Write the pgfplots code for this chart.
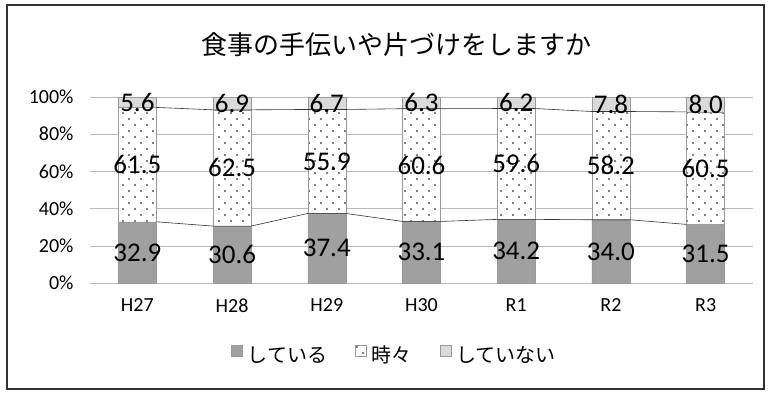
\documentclass[border=0pt]{standalone}
\usepackage{pgfplots}
\pgfplotsset{compat=1.18}
\usepackage{fontspec}
\setmainfont{Carlito}
\newfontfamily\jp{Noto Sans CJK JP}
\usetikzlibrary{patterns}
\pgfdeclarepatternformonly{sparsedots}{\pgfqpoint{-1pt}{-1pt}}{\pgfqpoint{13pt}{13pt}}{\pgfqpoint{12pt}{12pt}}{%
  \pgfpathcircle{\pgfqpoint{3pt}{3pt}}{0.8pt}%
  \pgfpathcircle{\pgfqpoint{9pt}{9pt}}{0.8pt}%
  \pgfusepath{fill}}
\pgfdeclarepatternformonly{finedots}{\pgfqpoint{-1pt}{-1pt}}{\pgfqpoint{4pt}{4pt}}{\pgfqpoint{3pt}{3pt}}{%
  \pgfpathcircle{\pgfqpoint{1pt}{1pt}}{0.45pt}%
  \pgfusepath{fill}}
\definecolor{darkbar}{HTML}{A0A0A0}
\definecolor{lightbar}{HTML}{DCDCDC}
\begin{document}
\begin{tikzpicture}
\useasboundingbox (0pt,0pt) rectangle (770pt,392pt);
\draw[line width=1.4pt, black!80] (7pt,3pt) rectangle (764pt,387pt);
\node[font=\jp\fontsize{26}{29}\selectfont] at (396pt,347pt) {食事の手伝いや片づけをしますか};
\begin{axis}[
  at={(90pt,109pt)}, anchor=south west, scale only axis,
  width=663pt, height=186pt,
  ybar stacked, bar width=38pt,
  xmin=-0.5, xmax=6.5, ymin=0, ymax=100,
  xtick={0,1,2,3,4,5,6},
  xticklabels={H27,H28,H29,H30,R1,R2,R3},
  ytick={0,20,40,60,80,100},
  yticklabel={\pgfmathprintnumber{\tick}\%},
  /pgf/number format/assume math mode=true,
  ymajorgrids, major grid style={gray!55, line width=0.6pt},
  axis line style={draw=none}, major tick length=0pt,
  tick label style={font=\fontsize{20}{24}\selectfont},
  xticklabel style={yshift=-12pt},
  yticklabel style={xshift=-13pt},
  legend style={at={(0.459,-0.387)}, anchor=center, draw=none, fill=none,
    legend columns=3, font=\jp\fontsize{20}{24}\selectfont,
    /tikz/every odd column/.append style={column sep=3pt},
    /tikz/every even column/.append style={column sep=26pt}},
  legend image code/.code={\draw[#1] (0pt,-1pt) rectangle (11pt,10pt);},
]
\addplot[fill=darkbar, draw=gray!80, line width=0.5pt, postaction={pattern=finedots, pattern color=gray!70}]
  coordinates {(0,32.9) (1,30.6) (2,37.4) (3,33.1) (4,34.2) (5,34.0) (6,31.5)};
\addplot[fill=white, draw=gray!80, line width=0.5pt, postaction={pattern=sparsedots, pattern color=black}]
  coordinates {(0,61.5) (1,62.5) (2,55.9) (3,60.6) (4,59.6) (5,58.2) (6,60.5)};
\addplot[fill=lightbar, draw=gray!80, line width=0.5pt, postaction={pattern=finedots, pattern color=gray!60}]
  coordinates {(0,5.6) (1,6.9) (2,6.7) (3,6.3) (4,6.2) (5,7.8) (6,8.0)};
\legend{している,時々,していない}
\end{axis}
\begin{axis}[
  at={(90pt,109pt)}, anchor=south west, scale only axis,
  width=663pt, height=186pt,
  xmin=-0.5, xmax=6.5, ymin=0, ymax=100, hide axis,
  clip=false,
]
\addplot[gray!40!black, line width=0.6pt, mark=none] coordinates {
 (0.2,32.9)(0.8,30.6)(1.2,30.6)(1.8,37.4)(2.2,37.4)(2.8,33.1)(3.2,33.1)(3.8,34.2)(4.2,34.2)(4.8,34.0)(5.2,34.0)(5.8,31.5)};
\addplot[gray!40!black, line width=0.6pt, mark=none] coordinates {
 (0.2,94.4)(0.8,93.1)(1.2,93.1)(1.8,93.3)(2.2,93.3)(2.8,93.7)(3.2,93.7)(3.8,93.8)(4.2,93.8)(4.8,92.2)(5.2,92.2)(5.8,92.0)};
\addplot[draw=none, mark=none, point meta=explicit symbolic, nodes near coords,
  every node near coord/.append style={anchor=center, font=\fontsize{27}{30}\selectfont, text=black}]
  coordinates {(0,16.45)[32.9] (1,15.3)[30.6] (2,18.7)[37.4] (3,16.55)[33.1] (4,17.1)[34.2] (5,17.0)[34.0] (6,15.75)[31.5]
   (0,63.65)[61.5] (1,61.85)[62.5] (2,65.35)[55.9] (3,63.4)[60.6] (4,64.0)[59.6] (5,63.1)[58.2] (6,61.75)[60.5]
   (0,97.2)[5.6] (1,96.55)[6.9] (2,96.65)[6.7] (3,96.85)[6.3] (4,96.9)[6.2] (5,96.1)[7.8] (6,96.0)[8.0]};
\end{axis}
\end{tikzpicture}
\end{document}
